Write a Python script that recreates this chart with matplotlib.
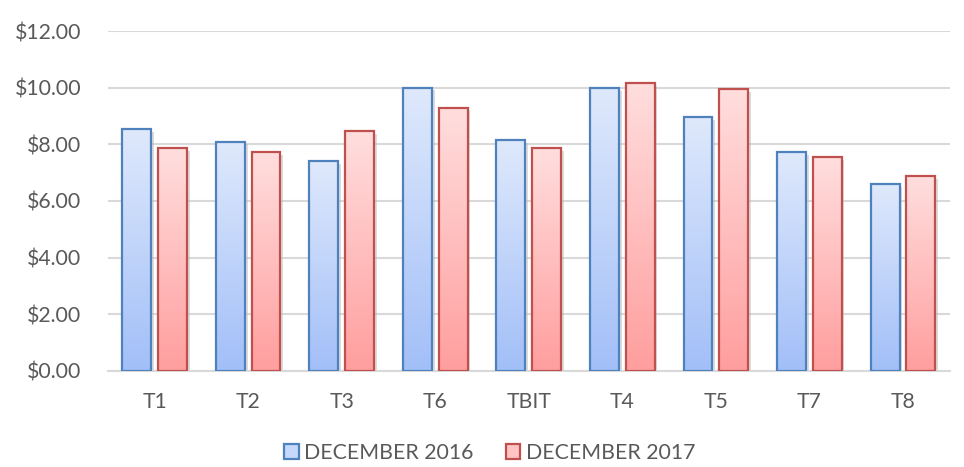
import numpy as np
import matplotlib.pyplot as plt
from matplotlib.colors import LinearSegmentedColormap
from matplotlib.patches import Patch
import matplotlib.patheffects as pe

categories = ['T1', 'T2', 'T3', 'T6', 'TBIT', 'T4', 'T5', 'T7', 'T8']
dec_2016 = [8.54, 8.10, 7.40, 10.00, 8.15, 9.98, 8.97, 7.72, 6.60]
dec_2017 = [7.87, 7.72, 8.47, 9.30, 7.87, 10.17, 9.96, 7.55, 6.88]
yticks = [0, 2, 4, 6, 8, 10, 12]

plt.rcParams['font.family'] = ['Lato', 'DejaVu Sans']
text_color = '#595959'

fig = plt.figure(figsize=(9.64, 4.67), dpi=100)
ax = fig.add_axes([0.112, 0.2056, 0.873, 0.728])

# 渐变色：上浅下深
cmap_blue = LinearSegmentedColormap.from_list('b', ['#a2bff8', '#dfe9fc'])
cmap_red = LinearSegmentedColormap.from_list('r', ['#ff9e9e', '#ffdede'])
grad = np.linspace(0, 1, 256).reshape(-1, 1)

x = np.arange(len(categories))
width = 0.31
offset = 0.19

for vals, off, cmap, edge in [(dec_2016, -offset, cmap_blue, '#4f81bd'),
                              (dec_2017, offset, cmap_red, '#c0504d')]:
    xs = x + off
    ax.bar(xs, vals, width, color='white', zorder=2,
           path_effects=[pe.SimplePatchShadow(offset=(2, -2), shadow_rgbFace='#bbbbbb', alpha=0.5), pe.Normal()])
    for xi, v in zip(xs, vals):
        ax.imshow(grad, extent=[xi - width / 2, xi + width / 2, 0, v], origin='lower',
                  aspect='auto', cmap=cmap, zorder=3, interpolation='bicubic')
    ax.bar(xs, vals, width, fill=False, edgecolor=edge, linewidth=1.6, zorder=4)

ax.set_xlim(-0.5, len(categories) - 0.5)
ax.set_ylim(0, 12)
ax.set_yticks(yticks)
ax.set_yticklabels([f'${t:.2f}' for t in yticks])
ax.set_xticks(x)
ax.set_xticklabels(categories)
ax.tick_params(axis='both', length=0, labelsize=15.3, colors=text_color)
ax.tick_params(axis='y', pad=19)
ax.tick_params(axis='x', pad=15)

ax.grid(axis='y', color='#d9d9d9', linewidth=1.5, zorder=0)
ax.set_axisbelow(True)
for s in ['top', 'right', 'left']:
    ax.spines[s].set_visible(False)
ax.spines['bottom'].set_color('#d9d9d9')
ax.spines['bottom'].set_linewidth(1.5)

handles = [Patch(facecolor='#c6d8fb', edgecolor='#4f81bd', linewidth=1.6, label='DECEMBER 2016'),
           Patch(facecolor='#ffc4c4', edgecolor='#c0504d', linewidth=1.6, label='DECEMBER 2017')]
leg = fig.legend(handles=handles, loc='center', bbox_to_anchor=(0.508, 0.03), ncol=2,
                 frameon=False, fontsize=15.3, handlelength=0.7, handleheight=0.7,
                 handletextpad=0.25, columnspacing=1.5)
for t in leg.get_texts():
    t.set_color(text_color)

plt.savefig('out.png', dpi=100)
